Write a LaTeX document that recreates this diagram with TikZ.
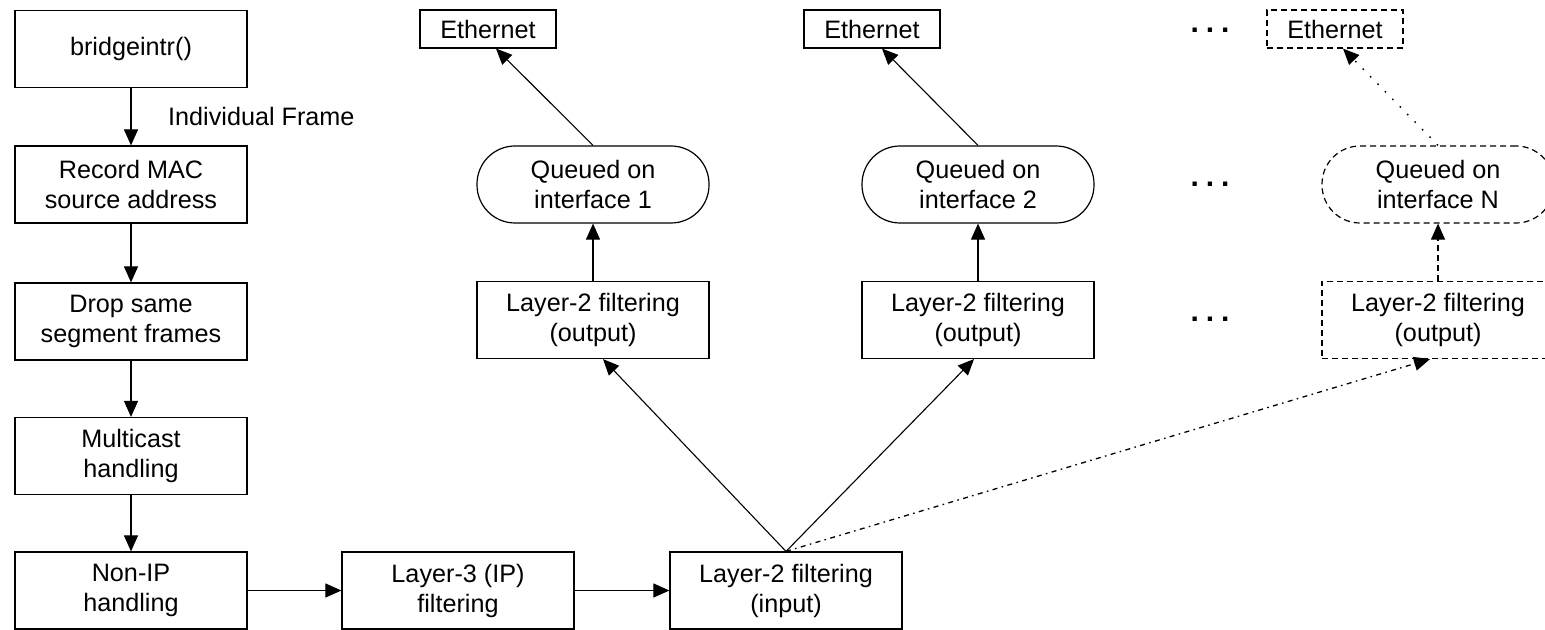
\documentclass[tikz,border=0pt]{standalone}
\usepackage{fontspec}
\setmainfont{Liberation Sans}
\usetikzlibrary{arrows.meta, calc, positioning}
\tikzset{
    boxNode/.style={rectangle, draw, line width=0.6pt, align=center, minimum width=116pt, minimum height=38.5pt, inner sep=2pt},
    queueNode/.style={boxNode, rounded corners=19pt},
    etherNode/.style={boxNode, minimum width=68pt, minimum height=19pt},
    ghostNode/.style={dash pattern=on 3pt off 2pt},
    dotsNode/.style={font=\fontsize{15}{15}\bfseries, inner sep=0pt},
    flowEdge/.style={-{Triangle[length=8pt, width=7pt]}, line width=0.55pt},
    flowDashed/.style={flowEdge, dash pattern=on 3pt off 2pt},
    flowSparse/.style={flowEdge, line width=0.65pt, dash pattern=on 2.5pt off 2.2pt on 0.8pt off 2.2pt},
    flowDotted/.style={flowEdge, line width=0.7pt, dash pattern=on 0.8pt off 4.5pt},
}
\newcommand{\drawFlow}[3][flowEdge]{
    \draw[#1] (#2) -- (#3);
}

\begin{document}
\begin{tikzpicture}[x=0.5pt, y=-0.5pt, font=\fontsize{12.6}{15}\selectfont]
        \useasboundingbox (0,0) rectangle (1545,630);

        % left column
        \node[boxNode] (bridge) at (131,49) {bridgeintr()};
        \node[boxNode] (record) at (131,184.5) {Record MAC\\source address};
        \node[boxNode] (drop) at (131,321.5) {Drop same\\segment frames};
        \node[boxNode] (mcast) at (131,456) {Multicast\\handling};
        \node[boxNode] (nonip) at (131,590.5) {Non-IP\\handling};
        \node[boxNode] (layer3) at (458,590.5) {Layer-3 (IP)\\filtering};
        \node[boxNode] (l2in) at (786,590.5) {Layer-2 filtering\\(input)};

        % interface 1
        \node[boxNode] (out1) at (593,320) {Layer-2 filtering\\(output)};
        \node[queueNode] (queue1) at (593,184.5) {Queued on\\interface 1};
        \node[etherNode] (eth1) at (488,29) {Ethernet};

        % interface 2
        \node[boxNode] (out2) at (978,320) {Layer-2 filtering\\(output)};
        \node[queueNode] (queue2) at (978,184.5) {Queued on\\interface 2};
        \node[etherNode] (eth2) at (872,29) {Ethernet};

        % interface N
        \node[boxNode, ghostNode] (outN) at (1438,320) {Layer-2 filtering\\(output)};
        \node[queueNode, ghostNode] (queueN) at (1438,184.5) {Queued on\\interface N};
        \node[etherNode, ghostNode] (ethN) at (1335,29) {Ethernet};

        \node[dotsNode] (dots1) at (1210,30) {.\hspace{3.5pt}.\hspace{3.5pt}.};
        \node[dotsNode] (dots2) at (1210,184) {.\hspace{3.5pt}.\hspace{3.5pt}.};
        \node[dotsNode] (dots3) at (1210,319) {.\hspace{3.5pt}.\hspace{3.5pt}.};

        \draw[flowEdge] (bridge) -- node[right=15pt] {Individual Frame} (record);
        \drawFlow{record}{drop}
        \drawFlow{drop}{mcast}
        \drawFlow{mcast}{nonip}
        \drawFlow{nonip}{layer3}
        \drawFlow{layer3}{l2in}

        \drawFlow{l2in.north}{[xshift=5pt]out1.south}
        \drawFlow{l2in.north}{[xshift=-2pt]out2.south}
        \drawFlow[flowSparse]{l2in.north}{[xshift=-4pt]outN.south}

        \drawFlow{out1}{queue1}
        \drawFlow{out2}{queue2}
        \drawFlow[flowDashed]{outN.north}{queueN.south}

        \drawFlow{queue1.north}{[xshift=4pt]eth1.south}
        \drawFlow{queue2.north}{[xshift=5pt]eth2.south}
        \drawFlow[flowDotted]{queueN.north}{[xshift=4pt]ethN.south}
\end{tikzpicture}
\end{document}
